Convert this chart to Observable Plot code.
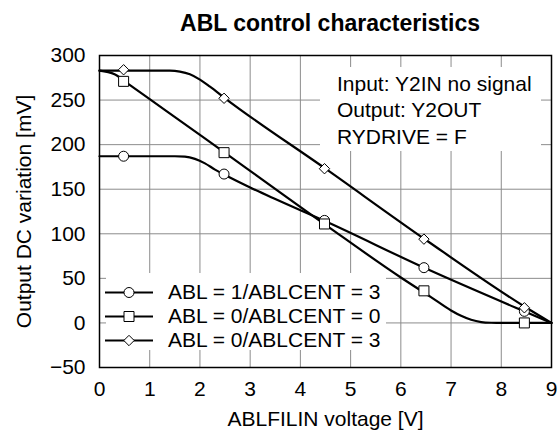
<!DOCTYPE html>
<html>
<head>
<meta charset="utf-8">
<script src="https://cdn.jsdelivr.net/npm/d3@7"></script>
<script src="https://cdn.jsdelivr.net/npm/@observablehq/plot@0.6"></script>
<style>
  body { margin: 0; background: #fff; }
  #wrap { position: relative; width: 560px; height: 432px; font-family: "Liberation Sans", Arial, sans-serif; color: #000; }
  #title { position: absolute; left: 104px; top: 12px; width: 452px; text-align: center; font-weight: bold; font-size: 23px; line-height: 23px; }
  #note { position: absolute; left: 320px; top: 67px; width: 221px; height: 84px; background: #fff; box-sizing: border-box; padding: 4px 0 0 17px; font-size: 21px; line-height: 26.3px; }
  #legend { position: absolute; left: 106px; top: 273px; width: 280px; height: 77px; background: #fff; }
  .lrow { position: absolute; left: 0; height: 24px; width: 280px; }
  .lrow svg { position: absolute; left: -2px; top: 0; }
  .lrow span { position: absolute; left: 62px; top: 0; font-size: 21px; line-height: 24px; white-space: nowrap; }
</style>
</head>
<body>
<div id="wrap"></div>
<script>
// ---- data ----
const titleText = "ABL control characteristics";
const xLabel = "ABLFILIN voltage [V]";
const yLabel = "Output DC variation [mV]";
const xTicks = [0, 1, 2, 3, 4, 5, 6, 7, 8, 9];
const yTicks = [-50, 0, 50, 100, 150, 200, 250, 300];
const noteLines = ["Input: Y2IN no signal", "Output: Y2OUT", "RYDRIVE = F"];
const seriesNames = ["ABL = 1/ABLCENT = 3", "ABL = 0/ABLCENT = 0", "ABL = 0/ABLCENT = 3"];

// characteristic curves
const circleCurveX = [0, 1.5, 1.7, 1.9, 2.1, 2.3, 2.5, 3, 3.5, 4.5, 6.5, 8.5, 9];
const circleCurveY = [187, 187, 186.5, 184, 179, 172, 166, 152, 139, 114, 61, 12, 0];
const squareCurveX = [0, 0.3, 0.6, 1, 2, 4.5, 6, 6.6, 7, 7.2, 7.4, 7.6, 7.8, 8.0, 9];
const squareCurveY = [283, 279, 267, 251, 211, 110, 51, 29, 14, 8, 3.5, 1, 0.2, 0, 0];
const diamondCurveX = [0, 1.4, 1.6, 1.8, 2.0, 2.2, 2.5, 4.5, 6.5, 8.5, 9];
const diamondCurveY = [283, 283, 282, 279, 273, 265, 252, 173, 93, 17, 0];

// measured points (markers)
const markerX = [0.48, 2.48, 4.48, 6.46, 8.46];
const circleMarkY = [187, 167, 115, 62, 13];
const squareMarkY = [271, 191, 111, 36, 0];
const diamondMarkY = [284, 252, 173, 94, 17];

// ---- build tables ----
const zipXY = (xs, ys) => xs.map((x, i) => ({x, y: ys[i]}));
const symR = {circle: 5, square: Math.sqrt(100 / Math.PI), diamond: Math.sqrt(68.9 / Math.PI)};
const symbols = {circle: d3.symbolCircle, square: d3.symbolSquare, diamond: d3.symbolDiamond2};
const series = [
  {name: seriesNames[0], sym: "circle", curve: zipXY(circleCurveX, circleCurveY), marks: zipXY(markerX, circleMarkY)},
  {name: seriesNames[1], sym: "square", curve: zipXY(squareCurveX, squareCurveY), marks: zipXY(markerX, squareMarkY)},
  {name: seriesNames[2], sym: "diamond", curve: zipXY(diamondCurveX, diamondCurveY), marks: zipXY(markerX, diamondMarkY)}
];

const font = "'Liberation Sans', Arial, sans-serif";
const chart = Plot.plot({
  width: 560,
  height: 432,
  marginLeft: 99,
  marginRight: 9,
  marginTop: 55,
  marginBottom: 65,
  style: {fontSize: "21px", fontFamily: font, background: "white", color: "black"},
  x: {domain: [0, 9]},
  y: {domain: [-50, 300]},
  marks: [
    Plot.ruleX(xTicks, {stroke: "#8c8c8c", strokeWidth: 1}),
    Plot.ruleY(yTicks, {stroke: "#8c8c8c", strokeWidth: 1}),
    ...series.map(s => Plot.line(s.curve, {x: "x", y: "y", stroke: "black", strokeWidth: 2.2, curve: "monotone-x"})),
    ...series.map(s => Plot.dot(s.marks, {x: "x", y: "y", symbol: symbols[s.sym], r: symR[s.sym], fill: "white", stroke: "black", strokeWidth: 1})),
    Plot.frame({stroke: "black", strokeWidth: 1.5}),
    Plot.axisX({ticks: xTicks, tickSize: 0, tickPadding: 14, label: xLabel, labelArrow: "none", labelAnchor: "center", labelOffset: 58, fontSize: 21}),
    Plot.axisY({ticks: yTicks, tickSize: 0, tickPadding: 14, label: yLabel, labelArrow: "none", labelAnchor: "center", labelOffset: 83, fontSize: 21})
  ]
});

const wrap = document.getElementById("wrap");
wrap.appendChild(chart);

const title = document.createElement("div");
title.id = "title";
title.textContent = titleText;
wrap.appendChild(title);

const note = document.createElement("div");
note.id = "note";
noteLines.forEach(t => { const d = document.createElement("div"); d.textContent = t; note.appendChild(d); });
wrap.appendChild(note);

const legend = document.createElement("div");
legend.id = "legend";
const rowTops = [7, 31, 55];
series.forEach((s, i) => {
  const row = document.createElement("div");
  row.className = "lrow";
  row.style.top = rowTops[i] + "px";
  const svg = d3.create("svg").attr("width", 52).attr("height", 24);
  svg.append("line").attr("x1", 1).attr("x2", 49).attr("y1", 12.5).attr("y2", 12.5).attr("stroke", "black").attr("stroke-width", 2.2);
  svg.append("path").attr("transform", "translate(25,12.5)")
    .attr("d", d3.symbol().type(symbols[s.sym]).size(Math.PI * symR[s.sym] ** 2)())
    .attr("fill", "white").attr("stroke", "black").attr("stroke-width", 1);
  row.appendChild(svg.node());
  const sp = document.createElement("span");
  sp.textContent = s.name;
  row.appendChild(sp);
  legend.appendChild(row);
});
wrap.appendChild(legend);
</script>
</body>
</html>
